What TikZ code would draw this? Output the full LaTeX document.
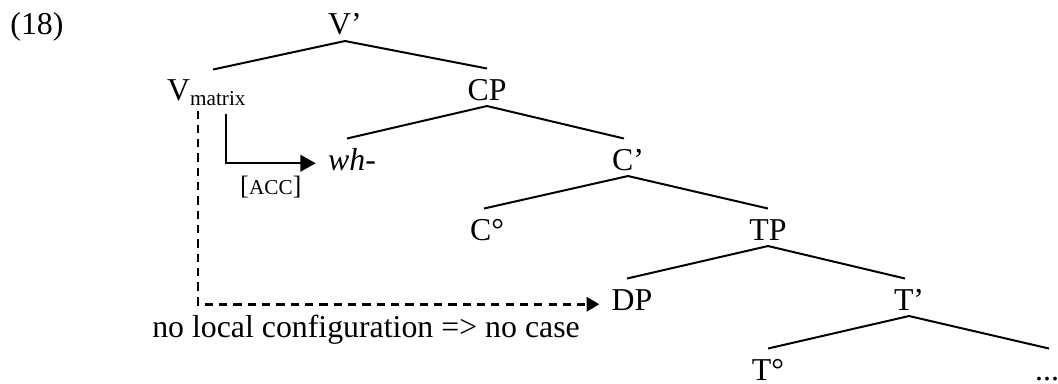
\documentclass[tikz,border=0pt]{standalone}
\usepackage{fontspec}
\setmainfont{Liberation Serif}
\usetikzlibrary{arrows.meta}
\usetikzlibrary{calc}

\begin{document}
\begin{tikzpicture}[ x=0.377pt, y=-0.377pt,
      every node/.style={font=\fontsize{12}{14}\selectfont},
      tree node/.style={anchor=base, text height=9.6pt, text depth=0pt, inner ysep=2.07pt},
      branch/.style={line width=0.75pt},
      case arrow/.style={line width=0.9pt, -{Triangle[length=5.8pt,width=6.2pt]}},
      dashed line/.style={line width=0.95pt, dash pattern=on 3.1pt off 2.3pt, -{Triangle[length=4.8pt,width=5.4pt]}}
      ]
      \useasboundingbox (0,0) rectangle (1058,383);

      % example number
      \node[anchor=base] (ex) at (37,35) {(18)};

      % tree
      \node[tree node] (Vbar)    at (345,35)  {V’};
      \node[tree node] (Vmatrix) at (207,101) {V\textsubscript{matrix}};
      \node[tree node] (CP)      at (487,100) {CP};
      \node[tree node] (wh)      at (352,170) {\textit{wh}-};
      \node[tree node] (Cbar)    at (628,170) {C’};
      \node[tree node] (Czero)   at (487,240) {C°};
      \node[tree node] (TP)      at (768,240) {TP};
      \node[tree node] (DP)      at (632,310) {DP};
      \node[tree node] (Tbar)    at (909,310) {T’};
      \node[tree node] (Tzero)   at (768,380) {T°};
      \node[tree node] (dots)    at (1047,380) {...};

      \draw[branch] (Vbar.south) -- ($(Vmatrix.north)+(6,0)$);
      \draw[branch] (Vbar.south) -- (CP.north);
      \draw[branch] (CP.south) -- ($(wh.north)+(-5,0)$);
      \draw[branch] (CP.south) -- ($(Cbar.north)+(-4,0)$);
      \draw[branch] (Cbar.south) -- ($(Czero.north)+(-3,0)$);
      \draw[branch] (Cbar.south) -- (TP.north);
      \draw[branch] (TP.south) -- ($(DP.north)+(-5,0)$);
      \draw[branch] (TP.south) -- ($(Tbar.north)+(-4,0)$);
      \draw[branch] (Tbar.south) -- (Tzero.north);
      \draw[branch] (Tbar.south) -- ($(dots.north)+(2,0)$);

      % case assignment
      \draw[case arrow] ($(Vmatrix.south)+(19,6.5)$) |- ($(wh.west)+(-3,6)$)
            node[pos=0.75, below=1.1pt] (acc) {\fontsize{10}{12}\selectfont [{\fontsize{8}{10}\selectfont ACC}]};
      \draw[dashed line] ($(Vmatrix.south)+(-9,3.5)$) |- ($(DP.west)+(-3,7)$);
      \node[anchor=base] (nocase) at (366,337) {no local configuration => no case};
    \end{tikzpicture}
\end{document}
